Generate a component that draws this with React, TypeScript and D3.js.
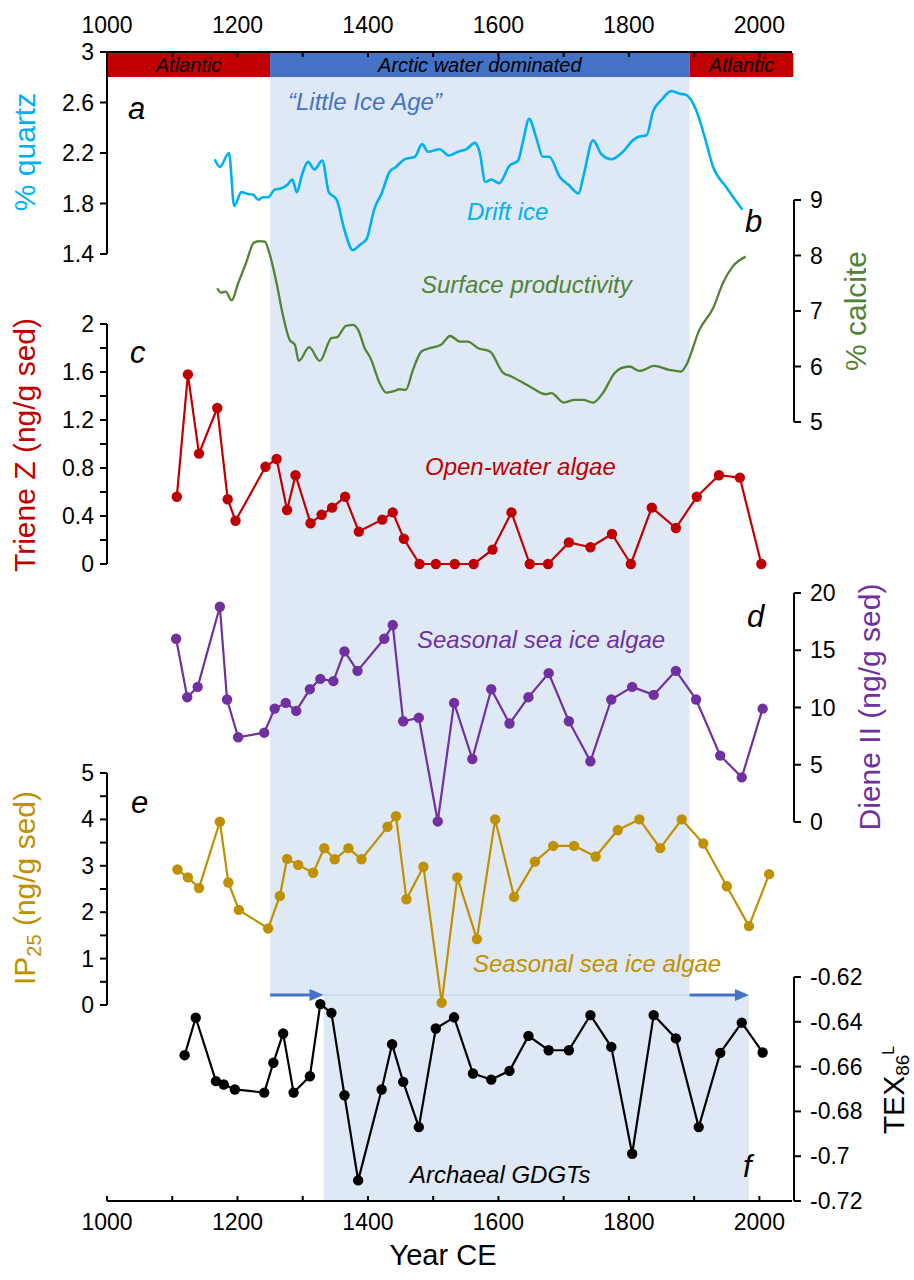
import React from 'react';
import * as d3 from 'd3';

const W = 914;
const H = 1280;

// ---------- DATA ----------
const xTicksMajor = [1000, 1200, 1400, 1600, 1800, 2000];
const xTicksMinor = [1000, 1100, 1200, 1300, 1400, 1500, 1600, 1700, 1800, 1900, 2000];

const quartzYears = [1165, 1173, 1187, 1195, 1206, 1216, 1224, 1232, 1239, 1247, 1257, 1267, 1277, 1284, 1291, 1299, 1308, 1318, 1330, 1340, 1352, 1364, 1377, 1387, 1398, 1410, 1421, 1433, 1443, 1456, 1472, 1483, 1492, 1510, 1524, 1538, 1551, 1564, 1571, 1580, 1589, 1601, 1617, 1630, 1638, 1647, 1658, 1668, 1678, 1694, 1707, 1723, 1730, 1745, 1758, 1773, 1791, 1806, 1816, 1827, 1837, 1850, 1865, 1878, 1888, 1903, 1916, 1929, 1949, 1974];
const quartzValues = [2.15, 2.09, 2.2, 1.78, 1.89, 1.875, 1.87, 1.83, 1.85, 1.85, 1.91, 1.92, 1.95, 1.99, 1.89, 2.03, 2.13, 2.07, 2.14, 1.89, 1.83, 1.59, 1.43, 1.47, 1.52, 1.76, 1.88, 2.05, 2.09, 2.15, 2.17, 2.27, 2.21, 2.23, 2.18, 2.21, 2.23, 2.28, 2.21, 1.97, 1.99, 1.96, 2.1, 2.14, 2.3, 2.47, 2.32, 2.17, 2.17, 2.01, 1.95, 1.88, 2.01, 2.3, 2.19, 2.15, 2.21, 2.3, 2.33, 2.34, 2.53, 2.62, 2.69, 2.67, 2.66, 2.54, 2.33, 2.09, 1.93, 1.75];

const calciteYears = [1169, 1175, 1182, 1191, 1201, 1213, 1225, 1234, 1242, 1249, 1260, 1269, 1280, 1288, 1294, 1310, 1326, 1344, 1353, 1366, 1377, 1385, 1395, 1404, 1418, 1428, 1438, 1449, 1458, 1469, 1482, 1495, 1512, 1526, 1541, 1553, 1569, 1587, 1607, 1620, 1648, 1673, 1681, 1700, 1717, 1730, 1745, 1760, 1778, 1788, 1801, 1816, 1839, 1862, 1880, 1888, 1908, 1929, 1944, 1959, 1979];
const calciteValues = [7.41, 7.33, 7.35, 7.19, 7.5, 7.86, 8.23, 8.26, 8.25, 8.04, 7.5, 6.96, 6.48, 6.39, 6.1, 6.35, 6.1, 6.51, 6.53, 6.73, 6.75, 6.66, 6.33, 6.15, 5.7, 5.53, 5.55, 5.59, 5.58, 5.94, 6.27, 6.33, 6.39, 6.55, 6.45, 6.45, 6.33, 6.27, 5.89, 5.82, 5.64, 5.5, 5.52, 5.35, 5.4, 5.4, 5.35, 5.52, 5.88, 5.97, 6.0, 5.92, 6.01, 5.94, 5.91, 6.03, 6.66, 7.05, 7.5, 7.8, 7.98];

const trieneYears = [1107, 1124, 1141, 1169, 1185, 1197, 1243, 1260, 1276, 1289, 1312, 1329, 1345, 1365, 1386, 1422, 1438, 1455, 1479, 1504, 1533, 1562, 1591, 1620, 1648, 1676, 1708, 1741, 1774, 1803, 1835, 1872, 1904, 1938, 1970, 2003];
const trieneValues = [0.56, 1.58, 0.92, 1.3, 0.54, 0.36, 0.81, 0.875, 0.45, 0.74, 0.34, 0.41, 0.47, 0.56, 0.27, 0.37, 0.43, 0.21, 0, 0, 0, 0, 0.12, 0.43, 0, 0, 0.18, 0.14, 0.25, 0, 0.47, 0.3, 0.56, 0.74, 0.72, 0];

const dieneYears = [1106, 1123, 1139, 1173, 1184, 1201, 1241, 1257, 1274, 1290, 1311, 1327, 1347, 1364, 1384, 1425, 1438, 1454, 1478, 1507, 1532, 1560, 1589, 1617, 1646, 1677, 1708, 1741, 1773, 1805, 1838, 1872, 1903, 1940, 1973, 2005];
const dieneValues = [16.0, 10.9, 11.8, 18.8, 10.7, 7.4, 7.8, 9.9, 10.4, 9.7, 11.6, 12.5, 12.3, 14.9, 13.2, 16.0, 17.2, 8.8, 9.1, 0.05, 10.4, 5.5, 11.6, 8.6, 10.9, 13.0, 8.8, 5.3, 10.7, 11.8, 11.1, 13.2, 10.7, 5.8, 3.9, 9.9];

const ip25Years = [1108, 1124, 1141, 1173, 1186, 1202, 1247, 1265, 1276, 1293, 1316, 1333, 1349, 1370, 1390, 1430, 1443, 1459, 1485, 1513, 1537, 1567, 1595, 1624, 1656, 1684, 1716, 1749, 1783, 1816, 1848, 1881, 1914, 1950, 1984, 2015];
const ip25Values = [2.92, 2.75, 2.52, 3.95, 2.64, 2.05, 1.65, 2.35, 3.15, 3.02, 2.85, 3.38, 3.14, 3.38, 3.14, 3.84, 4.07, 2.28, 2.98, 0.05, 2.75, 1.42, 4.0, 2.33, 3.09, 3.43, 3.43, 3.2, 3.77, 4.0, 3.38, 4.0, 3.48, 2.56, 1.7, 2.82];

const texYears = [1119, 1136, 1167, 1179, 1196, 1241, 1255, 1270, 1286, 1311, 1327, 1344, 1364, 1385, 1421, 1437, 1454, 1478, 1504, 1532, 1561, 1589, 1617, 1646, 1677, 1708, 1741, 1773, 1805, 1838, 1872, 1907, 1940, 1973, 2005];
const texValues = [-0.6549, -0.6382, -0.6665, -0.668, -0.6702, -0.6716, -0.6583, -0.6452, -0.6716, -0.6643, -0.6321, -0.636, -0.6728, -0.7108, -0.6702, -0.65, -0.6668, -0.687, -0.643, -0.638, -0.6631, -0.6658, -0.6619, -0.6463, -0.6527, -0.6527, -0.637, -0.6512, -0.6989, -0.637, -0.6474, -0.687, -0.6539, -0.6404, -0.6537];

const quartzTicks = [3, 2.6, 2.2, 1.8, 1.4];
const quartzTickLabels = ['3', '2.6', '2.2', '1.8', '1.4'];
const calciteTicks = [9, 8, 7, 6, 5];
const trieneTicks = [0, 0.2, 0.4, 0.6, 0.8, 1.0, 1.2, 1.4, 1.6, 1.8, 2.0];
const trieneLabelTicks = [0, 0.4, 0.8, 1.2, 1.6, 2];
const trieneTickLabels = ['0', '0.4', '0.8', '1.2', '1.6', '2'];
const dieneTicks = [0, 5, 10, 15, 20];
const ip25Ticks = [0, 0.5, 1, 1.5, 2, 2.5, 3, 3.5, 4, 4.5, 5];
const ip25LabelTicks = [0, 1, 2, 3, 4, 5];
const texTicks = [-0.62, -0.64, -0.66, -0.68, -0.7, -0.72];
const texTickLabels = ['-0.62', '-0.64', '-0.66', '-0.68', '-0.7', '-0.72'];

// periods
const atlantic1 = [1000, 1250];
const arctic = [1250, 1893];
const atlantic2 = [1893, 2052];
const archaealShade = [1332, 1984];

// ---------- STYLE ----------
const FONT = "'Liberation Sans', Arial, Helvetica, sans-serif";
const C_CYAN = '#00b0f0';
const C_GREEN = '#548235';
const C_RED = '#c00000';
const C_PURPLE = '#7030a0';
const C_GOLD = '#bf9000';
const C_BLUE = '#4472c4';
const C_SHADE = '#dee9f5';

const x = d3.scaleLinear().domain([1000, 2050]).range([107, 792]);
const ya = d3.scaleLinear().domain([1.4, 3]).range([254, 52]);
const yb = d3.scaleLinear().domain([5, 9]).range([422, 200]);
const yc = d3.scaleLinear().domain([0, 2]).range([564, 324]);
const yd = d3.scaleLinear().domain([0, 20]).range([822, 593]);
const ye = d3.scaleLinear().domain([0, 5]).range([1005, 773]);
const yf = d3.scaleLinear().domain([-0.72, -0.62]).range([1201, 977]);

const TICK = 7;
const TFS = 23;

function LeftAxis({ y, ticks, labelTicks, labels }: any) {
  const [y0, y1] = d3.extent(ticks.map((t: number) => y(t))) as [number, number];
  const x0 = x(1000);
  return (
    <g>
      <line x1={x0} x2={x0} y1={y0} y2={y1} stroke="#000" strokeWidth={2} />
      {ticks.map((t: number, i: number) => (
        <line key={i} x1={x0 - TICK} x2={x0} y1={y(t)} y2={y(t)} stroke="#000" strokeWidth={2} />
      ))}
      {labelTicks.map((t: number, i: number) => (
        <text key={i} x={x0 - 13} y={y(t) + 8} textAnchor="end" fontSize={TFS} fontFamily={FONT}>{labels[i]}</text>
      ))}
    </g>
  );
}

function RightAxis({ y, ticks, labels }: any) {
  const [y0, y1] = d3.extent(ticks.map((t: number) => y(t))) as [number, number];
  const x0 = 794;
  return (
    <g>
      <line x1={x0} x2={x0} y1={y0} y2={y1} stroke="#000" strokeWidth={2} />
      {ticks.map((t: number, i: number) => (
        <line key={i} x1={x0} x2={x0 + TICK} y1={y(t)} y2={y(t)} stroke="#000" strokeWidth={2} />
      ))}
      {ticks.map((t: number, i: number) => (
        <text key={i} x={x0 + 16} y={y(t) + 8} textAnchor="start" fontSize={TFS} fontFamily={FONT}>{labels[i]}</text>
      ))}
    </g>
  );
}

function Series({ years, values, y, color, smooth, dots, width = 2.2 }: any) {
  const pts = years.map((yr: number, i: number) => [x(yr), y(values[i])] as [number, number]);
  const line = d3.line().curve(smooth ? d3.curveMonotoneX : d3.curveLinear);
  return (
    <g>
      <path d={line(pts) || ''} fill="none" stroke={color} strokeWidth={width} strokeLinejoin="round" />
      {dots && pts.map((p: [number, number], i: number) => <circle key={i} cx={p[0]} cy={p[1]} r={5.2} fill={color} />)}
    </g>
  );
}

function Arrow({ from, to, yy }: any) {
  const x1 = x(from), x2 = x(to);
  return (
    <g>
      <line x1={x1} x2={x2 - 12} y1={yy} y2={yy} stroke={C_BLUE} strokeWidth={3} />
      <polygon points={`${x2},${yy} ${x2 - 14},${yy - 6} ${x2 - 14},${yy + 6}`} fill={C_BLUE} />
    </g>
  );
}

export default function App() {
  const barTop = 53, barBot = 77;
  const arrowY = 995;
  return (
    <svg width={W} height={H} style={{ position: 'absolute', left: 0, top: 0, background: '#fff' }} fontFamily={FONT}>
      {/* shading */}
      <rect x={x(arctic[0])} y={barBot} width={x(arctic[1]) - x(arctic[0])} height={arrowY - barBot} fill={C_SHADE} />
      <rect x={x(archaealShade[0])} y={arrowY} width={x(archaealShade[1]) - x(archaealShade[0])} height={1200 - arrowY} fill={C_SHADE} />
      <line x1={x(archaealShade[0])} x2={x(arctic[1])} y1={arrowY} y2={arrowY} stroke="#b4cdea" strokeWidth={1} />

      {/* period bar */}
      <rect x={x(atlantic1[0])} y={barTop} width={x(atlantic1[1]) - x(atlantic1[0])} height={barBot - barTop} fill={C_RED} />
      <rect x={x(arctic[0])} y={barTop} width={x(arctic[1]) - x(arctic[0])} height={barBot - barTop} fill={C_BLUE} />
      <rect x={x(atlantic2[0])} y={barTop} width={x(atlantic2[1]) - x(atlantic2[0])} height={barBot - barTop} fill={C_RED} />
      <text x={(x(atlantic1[0]) + x(atlantic1[1])) / 2} y={72} textAnchor="middle" fontSize={20} fontStyle="italic">Atlantic</text>
      <text x={(x(arctic[0]) + x(arctic[1])) / 2} y={72} textAnchor="middle" fontSize={20} fontStyle="italic">Arctic water dominated</text>
      <text x={(x(atlantic2[0]) + x(atlantic2[1])) / 2} y={72} textAnchor="middle" fontSize={20} fontStyle="italic">Atlantic</text>

      {/* top axis */}
      <line x1={x(1000)} x2={x(2050)} y1={52} y2={52} stroke="#000" strokeWidth={2} />
      {xTicksMinor.map((t) => (
        <line key={t} x1={x(t)} x2={x(t)} y1={52} y2={57} stroke="#000" strokeWidth={2} />
      ))}
      {xTicksMajor.map((t) => (
        <text key={t} x={x(t)} y={33} textAnchor="middle" fontSize={TFS}>{t}</text>
      ))}

      {/* bottom axis */}
      <line x1={x(1000)} x2={x(2050)} y1={1201} y2={1201} stroke="#000" strokeWidth={2} />
      {xTicksMinor.map((t) => (
        <line key={t} x1={x(t)} x2={x(t)} y1={1196} y2={1201} stroke="#000" strokeWidth={2} />
      ))}
      {xTicksMajor.map((t) => (
        <text key={t} x={x(t)} y={1230} textAnchor="middle" fontSize={TFS}>{t}</text>
      ))}
      <text x={443} y={1265} textAnchor="middle" fontSize={29}>Year CE</text>

      {/* annotations */}
      <text x={288} y={110} fontSize={24} fontStyle="italic" fill={C_BLUE}>“Little Ice Age”</text>
      <text x={467} y={220} fontSize={24} fontStyle="italic" fill={C_CYAN}>Drift ice</text>
      <text x={421} y={293} fontSize={24} fontStyle="italic" fill={C_GREEN}>Surface productivity</text>
      <text x={425} y={475} fontSize={24} fontStyle="italic" fill={C_RED}>Open-water algae</text>
      <text x={417} y={648} fontSize={24} fontStyle="italic" fill={C_PURPLE}>Seasonal sea ice algae</text>
      <text x={473} y={972} fontSize={24} fontStyle="italic" fill={C_GOLD}>Seasonal sea ice algae</text>
      <text x={410} y={1183} fontSize={24} fontStyle="italic" fill="#000">Archaeal GDGTs</text>

      {/* panel letters */}
      <text x={128} y={119} fontSize={31} fontStyle="italic">a</text>
      <text x={745} y={232} fontSize={31} fontStyle="italic">b</text>
      <text x={130} y={363} fontSize={31} fontStyle="italic">c</text>
      <text x={747} y={627} fontSize={31} fontStyle="italic">d</text>
      <text x={131} y={813} fontSize={31} fontStyle="italic">e</text>
      <text x={743} y={1177} fontSize={31} fontStyle="italic">f</text>

      {/* axes */}
      <LeftAxis y={ya} ticks={quartzTicks} labelTicks={quartzTicks} labels={quartzTickLabels} />
      <RightAxis y={yb} ticks={calciteTicks} labels={calciteTicks.map(String)} />
      <LeftAxis y={yc} ticks={trieneTicks} labelTicks={trieneLabelTicks} labels={trieneTickLabels} />
      <RightAxis y={yd} ticks={dieneTicks} labels={dieneTicks.map(String)} />
      <LeftAxis y={ye} ticks={ip25Ticks} labelTicks={ip25LabelTicks} labels={ip25LabelTicks.map(String)} />
      <RightAxis y={yf} ticks={texTicks} labels={texTickLabels} />

      {/* axis titles */}
      <text transform="translate(35,152) rotate(-90)" textAnchor="middle" fontSize={30} fill={C_CYAN}>% quartz</text>
      <text transform="translate(35,445) rotate(-90)" textAnchor="middle" fontSize={30} fill={C_RED}>Triene Z (ng/g sed)</text>
      <text transform="translate(35,888) rotate(-90)" textAnchor="middle" fontSize={30} fill={C_GOLD}>
        IP<tspan dy={6} fontSize={20}>25</tspan><tspan dy={-6}> (ng/g sed)</tspan>
      </text>
      <text transform="translate(866,311) rotate(-90)" textAnchor="middle" fontSize={30} fill={C_GREEN}>% calcite</text>
      <text transform="translate(880,707) rotate(-90)" textAnchor="middle" fontSize={30} fill={C_PURPLE}>Diene II (ng/g sed)</text>
      <text transform="translate(904,1090) rotate(-90)" textAnchor="middle" fontSize={30} fill="#000">
        TEX<tspan dy={5} fontSize={19}>86</tspan><tspan dy={-15} fontSize={16}>L</tspan>
      </text>

      {/* series */}
      <Series years={calciteYears} values={calciteValues} y={yb} color={C_GREEN} smooth width={2.3} />
      <Series years={quartzYears} values={quartzValues} y={ya} color={C_CYAN} smooth width={2.6} />
      <Series years={trieneYears} values={trieneValues} y={yc} color={C_RED} dots />
      <Series years={dieneYears} values={dieneValues} y={yd} color={C_PURPLE} dots />
      <Series years={ip25Years} values={ip25Values} y={ye} color={C_GOLD} dots />
      <Series years={texYears} values={texValues} y={yf} color="#000" dots />

      {/* arrows */}
      <Arrow from={arctic[0]} to={archaealShade[0]} yy={arrowY} />
      <Arrow from={arctic[1]} to={archaealShade[1]} yy={arrowY} />
    </svg>
  );
}
